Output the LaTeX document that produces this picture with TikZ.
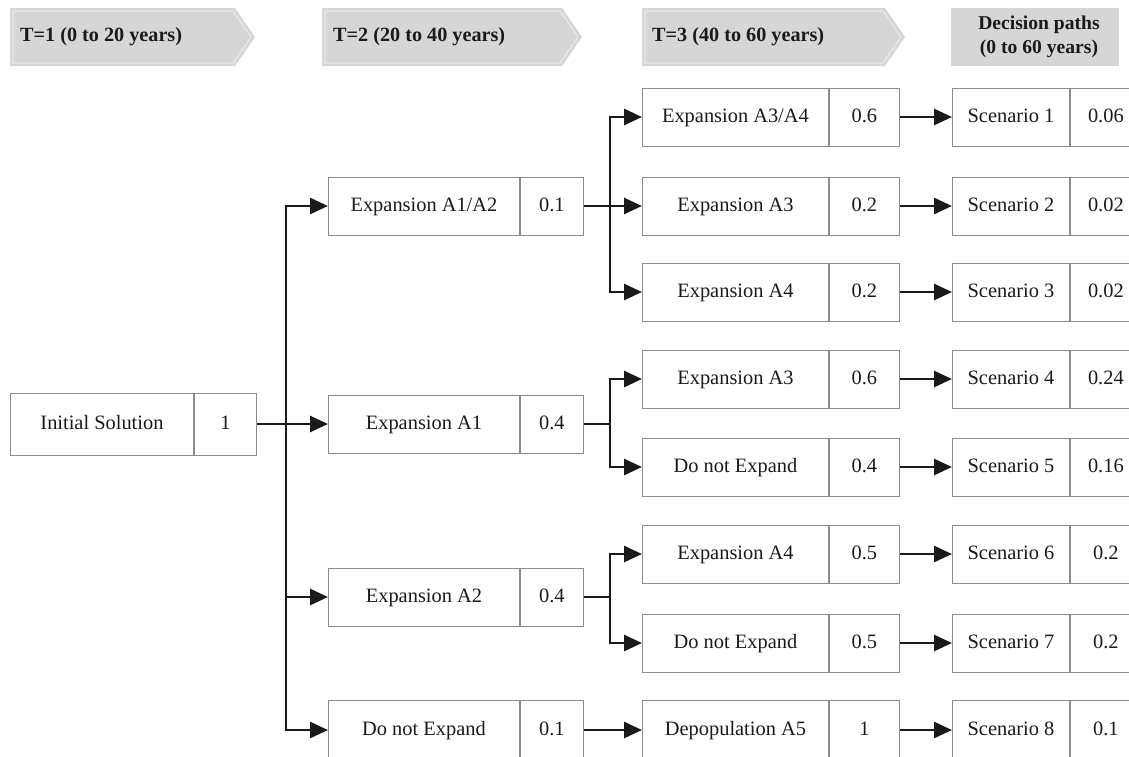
\documentclass[tikz,border=0pt]{standalone}
\usepackage{fontspec}
\setmainfont{Liberation Serif}
\usetikzlibrary{arrows.meta}
\definecolor{boxgray}{HTML}{8C8C8C}
\definecolor{hdrfill}{HTML}{D6D6D6}
\definecolor{hdrline}{HTML}{EBEBEB}
\definecolor{textc}{HTML}{1A1A1A}
\begin{document}
\begin{tikzpicture}[x=1pt,y=-1pt,
  lbl/.style={draw=boxgray, line width=0.9pt, minimum height=58pt, inner sep=0pt, anchor=west,
    font=\fontsize{20.4}{24}\selectfont, text=textc, text height=14pt, text depth=4pt},
  hdr/.style={fill=hdrfill, draw=none},
  hdrin/.style={draw=hdrline, line width=1pt},
  hdrtxt/.style={font=\bfseries\fontsize{20.2}{24}\selectfont, text=textc, inner sep=0pt},
  conn/.style={line width=2.8pt, draw=textc, line join=miter},
  arr/.style={conn, -{Triangle[length=18pt,width=16pt]}}]
\clip (0,0) rectangle (1129,756);
% headers
\path[hdr] (10,8) -- (235,8) -- (255,37) -- (235,66) -- (10,66) -- cycle;
\draw[hdrin] (13,11) -- (233,11) -- (251,37) -- (233,63) -- (13,63) -- cycle;
\node[hdrtxt, anchor=west] (h1) at (20,37) {T=1 (0 to 20 years)};
\path[hdr] (322,8) -- (562,8) -- (582,37) -- (562,66) -- (322,66) -- cycle;
\draw[hdrin] (325,11) -- (560,11) -- (578,37) -- (560,63) -- (325,63) -- cycle;
\node[hdrtxt, anchor=west] (h2) at (333,37) {T=2 (20 to 40 years)};
\path[hdr] (642,8) -- (885,8) -- (905,37) -- (885,66) -- (642,66) -- cycle;
\draw[hdrin] (645,11) -- (883,11) -- (901,37) -- (883,63) -- (645,63) -- cycle;
\node[hdrtxt, anchor=west] (h3) at (652,37) {T=3 (40 to 60 years)};
\path[hdr] (951,8) rectangle (1119,66);
\node[hdrtxt, align=center, font=\bfseries\fontsize{19.6}{24}\selectfont] (h4) at (1039,37) {Decision paths\\(0 to 60 years)};
% column 1
\node[lbl, minimum width=183pt, minimum height=62pt] (c1) at (10,424) {Initial Solution};
\node[lbl, minimum width=62pt, minimum height=62pt] (c1p) at (c1.east) {1};
% column 2
\node[lbl, minimum width=191pt] (c2a) at (328,206) {Expansion A1/A2};
\node[lbl, minimum width=63pt] (c2ap) at (c2a.east) {0.1};
\node[lbl, minimum width=191pt] (c2b) at (328,424) {Expansion A1};
\node[lbl, minimum width=63pt] (c2bp) at (c2b.east) {0.4};
\node[lbl, minimum width=191pt] (c2c) at (328,597) {Expansion A2};
\node[lbl, minimum width=63pt] (c2cp) at (c2c.east) {0.4};
\node[lbl, minimum width=191pt, minimum height=60pt] (c2d) at (328,730) {Do not Expand};
\node[lbl, minimum width=63pt, minimum height=60pt] (c2dp) at (c2d.east) {0.1};
% column 3
\node[lbl, minimum width=186pt] (c3a) at (642,117) {Expansion A3/A4};
\node[lbl, minimum width=70pt] (c3ap) at (c3a.east) {0.6};
\node[lbl, minimum width=186pt] (c3b) at (642,206) {Expansion A3};
\node[lbl, minimum width=70pt] (c3bp) at (c3b.east) {0.2};
\node[lbl, minimum width=186pt] (c3c) at (642,292) {Expansion A4};
\node[lbl, minimum width=70pt] (c3cp) at (c3c.east) {0.2};
\node[lbl, minimum width=186pt] (c3d) at (642,379) {Expansion A3};
\node[lbl, minimum width=70pt] (c3dp) at (c3d.east) {0.6};
\node[lbl, minimum width=186pt] (c3e) at (642,467) {Do not Expand};
\node[lbl, minimum width=70pt] (c3ep) at (c3e.east) {0.4};
\node[lbl, minimum width=186pt] (c3f) at (642,554) {Expansion A4};
\node[lbl, minimum width=70pt] (c3fp) at (c3f.east) {0.5};
\node[lbl, minimum width=186pt] (c3g) at (642,643) {Do not Expand};
\node[lbl, minimum width=70pt] (c3gp) at (c3g.east) {0.5};
\node[lbl, minimum width=186pt, minimum height=60pt] (c3h) at (642,730) {Depopulation A5};
\node[lbl, minimum width=70pt, minimum height=60pt] (c3hp) at (c3h.east) {1};
% column 4
\node[lbl, minimum width=117pt] (s1) at (952,117) {Scenario 1};
\node[lbl, minimum width=71pt] (s1p) at (s1.east) {0.06};
\node[lbl, minimum width=117pt] (s2) at (952,206) {Scenario 2};
\node[lbl, minimum width=71pt] (s2p) at (s2.east) {0.02};
\node[lbl, minimum width=117pt] (s3) at (952,292) {Scenario 3};
\node[lbl, minimum width=71pt] (s3p) at (s3.east) {0.02};
\node[lbl, minimum width=117pt] (s4) at (952,379) {Scenario 4};
\node[lbl, minimum width=71pt] (s4p) at (s4.east) {0.24};
\node[lbl, minimum width=117pt] (s5) at (952,467) {Scenario 5};
\node[lbl, minimum width=71pt] (s5p) at (s5.east) {0.16};
\node[lbl, minimum width=117pt] (s6) at (952,554) {Scenario 6};
\node[lbl, minimum width=71pt] (s6p) at (s6.east) {0.2};
\node[lbl, minimum width=117pt] (s7) at (952,643) {Scenario 7};
\node[lbl, minimum width=71pt] (s7p) at (s7.east) {0.2};
\node[lbl, minimum width=117pt, minimum height=60pt] (s8) at (952,730) {Scenario 8};
\node[lbl, minimum width=71pt, minimum height=60pt] (s8p) at (s8.east) {0.1};
% connectors column 1 -> 2
\coordinate (j1) at (286,424);
\draw[conn] (c1p.east) -- (j1);
\draw[arr] (j1) |- (c2a.west);
\draw[arr] (j1) -- (c2b.west);
\draw[arr] (j1) |- (c2c.west);
\draw[arr] (j1) |- (c2d.west);
% column 2 -> 3
\coordinate (j2a) at (610,206);
\draw[conn] (c2ap.east) -- (j2a);
\draw[arr] (j2a) |- (c3a.west);
\draw[arr] (j2a) -- (c3b.west);
\draw[arr] (j2a) |- (c3c.west);
\coordinate (j2b) at (610,424);
\draw[conn] (c2bp.east) -- (j2b);
\draw[arr] (j2b) |- (c3d.west);
\draw[arr] (j2b) |- (c3e.west);
\coordinate (j2c) at (610,597);
\draw[conn] (c2cp.east) -- (j2c);
\draw[arr] (j2c) |- (c3f.west);
\draw[arr] (j2c) |- (c3g.west);
\draw[arr] (c2dp.east) -- (c3h.west);
% column 3 -> 4
\draw[arr] (c3ap.east) -- (s1.west);
\draw[arr] (c3bp.east) -- (s2.west);
\draw[arr] (c3cp.east) -- (s3.west);
\draw[arr] (c3dp.east) -- (s4.west);
\draw[arr] (c3ep.east) -- (s5.west);
\draw[arr] (c3fp.east) -- (s6.west);
\draw[arr] (c3gp.east) -- (s7.west);
\draw[arr] (c3hp.east) -- (s8.west);
\end{tikzpicture}
\end{document}
